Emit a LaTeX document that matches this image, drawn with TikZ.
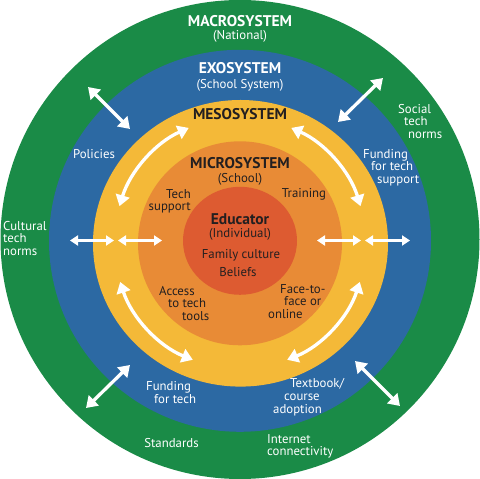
\documentclass[tikz,border=0pt]{standalone}
\usepackage{fontspec}
\setmainfont{PT Sans}
\usetikzlibrary{arrows.meta}
\definecolor{macrogreen}{RGB}{26,139,71}
\definecolor{exoblue}{RGB}{44,105,163}
\definecolor{mesoyellow}{RGB}{244,185,56}
\definecolor{microorange}{RGB}{232,139,54}
\definecolor{edured}{RGB}{221,91,49}
\definecolor{inktext}{RGB}{35,31,32}

\begin{document}
\begin{tikzpicture}[x=1pt, y=1pt, inner sep=0pt,
    font=\fontsize{12.8}{12.6}\selectfont,
    title/.style={font=\fontsize{15.5}{16}\selectfont\bfseries, anchor=base},
    sub/.style={anchor=base},
    outer/.style={white},
    inner/.style={inktext},
    link/.style={white, line width=3.3pt, {Triangle[length=11pt,width=14pt]}-{Triangle[length=11pt,width=14pt]}},
    shortlink/.style={white, line width=2.6pt, {Triangle[length=8pt,width=10pt]}-{Triangle[length=8pt,width=10pt]}}]
    \useasboundingbox (0,0) rectangle (480,479);
    \fill [macrogreen] (240,239.5) circle (239.5);
    \fill [exoblue] (240,238.2) circle (191);
    \fill [mesoyellow] (240.5,235.7) ellipse (147.5 and 143.3);
    \fill [microorange] (240,235.7) circle (102);
    \fill [edured] (240,238.2) ellipse (57 and 54);
    \coordinate (c) at (240,236);

    \node [title, outer] (macro) at (240,452.5) {MACROSYSTEM};
    \node [sub, outer] (national) at (240,439.7) {(National)};
    \node [title, outer] (exo) at (240,405.5) {EXOSYSTEM};
    \node [sub, outer] (schoolsystem) at (240,390.9) {(School System)};
    \node [title, inner] (meso) at (240,359) {MESOSYSTEM};
    \node [title, inner] (micro) at (240,310.5) {MICROSYSTEM};
    \node [sub, inner] (school) at (240,296.5) {(School)};
    \node [title, inner] (educator) at (240,254.5) {Educator};
    \node [sub, inner] (individual) at (240,241) {(Individual)};
    \node [sub, inner] (family) at (241,220) {Family culture};
    \node [sub, inner] (beliefs) at (238,202.3) {Beliefs};
    \node [sub, inner] (training) at (304,281) {Training};
    \node [inner, anchor=north east, align=right] (techsupport) at (191,290) {Tech\\support};
    \node [inner, anchor=north west, align=left] (access) at (159,193.2) {Access\\\hspace*{9pt}to tech\\\hspace*{23pt}tools};
    \node [inner, anchor=north west, align=left] (facetoface) at (268,195) {\hspace*{12pt}Face-to-\\\hspace*{16pt}face or\\online};
    \node [sub, outer] (policies) at (94,320.7) {Policies};
    \node [outer, anchor=north west, align=left] (fundsupport) at (363,330.2) {Funding\\\hspace*{8pt}for tech\\\hspace*{14pt}support};
    \node [outer, anchor=north west, align=left] (socialnorms) at (398,375.2) {Social\\\hspace*{6pt}tech\\\hspace*{10pt}norms};
    \node [outer, anchor=north west, align=left] (culturalnorms) at (3,258.2) {Cultural\\tech\\norms};
    \node [outer, anchor=north west, align=left] (fundtech) at (146,97.5) {Funding\\\hspace*{8pt}for tech};
    \node [outer, anchor=north west, align=left] (textbook) at (273,100.5) {\hspace*{17pt}Textbook/\\\hspace*{11pt}course\\adoption};
    \node [sub, outer] (standards) at (171.5,31.7) {Standards};
    \node [outer, anchor=north west, align=left] (internet) at (267,45) {Internet\\connectivity};

    \draw [link] (88,392) -- (130,350);
    \draw [link] (383,401) -- (338,357);
    \draw [link] (130,114) -- (86,71);
    \draw [link] (355,118) -- (400,73);
    \draw [shortlink] (70,238.5) -- (114,238.5);
    \draw [shortlink] (118,238.5) -- (162,238.5);
    \draw [shortlink] (317,238.5) -- (361,238.5);
    \draw [shortlink] (365,238.5) -- (410,238.5);
    \draw [link] ([shift={(163:126)}]c) arc [start angle=163, end angle=114, radius=126];
    \draw [link] ([shift={(66:126)}]c) arc [start angle=66, end angle=17, radius=126];
    \draw [link] ([shift={(198:126)}]c) arc [start angle=198, end angle=248, radius=126];
    \draw [link] ([shift={(292:126)}]c) arc [start angle=292, end angle=342, radius=126];
\end{tikzpicture}
\end{document}
